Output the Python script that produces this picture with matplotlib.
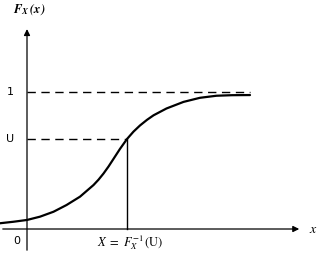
import matplotlib
matplotlib.use("Agg")
import matplotlib.pyplot as plt

# CDF curve (x in arbitrary units, F between 0 and 1)
curve_x = [-0.54, -0.27, 0.0, 0.26, 0.53, 0.79, 1.06, 1.33, 1.43, 1.53, 1.63, 1.73, 1.86,
           2.0, 2.13, 2.26, 2.4, 2.53, 2.79, 3.13, 3.46, 3.79, 4.1, 4.46]
curve_f = [0.042, 0.053, 0.066, 0.090, 0.126, 0.175, 0.236, 0.321, 0.360, 0.405, 0.456, 0.512, 0.585,
           0.657, 0.711, 0.756, 0.797, 0.830, 0.880, 0.928, 0.958, 0.973, 0.977, 0.978]

u_level = 0.657  # the "U" level on the F axis
x_inv = 2.0      # X = F_X^{-1}(U)
dash_end = 4.46  # where the dashed line at 1 stops

plt.rcParams['mathtext.fontset'] = 'stix'

fig = plt.figure(figsize=(3.23, 2.59), dpi=100)
ax = fig.add_axes([0, 0, 1, 1])
ax.set_xlim(-0.54, 5.92)
ax.set_ylim(-0.219, 1.672)
ax.axis('off')

# axes with arrows
ax.annotate('', xy=(5.5, 0), xytext=(-0.54, 0),
            arrowprops=dict(arrowstyle='-|>', lw=0.9, color='black', mutation_scale=9))
ax.annotate('', xy=(0, 1.48), xytext=(0, -0.175),
            arrowprops=dict(arrowstyle='-|>', lw=0.9, color='black', mutation_scale=9))

# dashed guide lines
ax.plot([0, dash_end], [1, 1], color='black', lw=1.0, dashes=(6, 4))
ax.plot([0, x_inv], [u_level, u_level], color='black', lw=1.0, dashes=(6, 4))
ax.plot([x_inv, x_inv], [0, u_level], color='black', lw=1.0)

# the curve
ax.plot(curve_x, curve_f, color='black', lw=1.6, solid_capstyle='round', solid_joinstyle='round')

# labels
ax.text(0.04, 1.60, r'$\mathbfit{F_X\,(x)}$', fontsize=9, ha='center', va='center')
ax.text(-0.34, 1.0, '1', fontsize=8, ha='center', va='center', family='DejaVu Sans')
ax.text(-0.34, u_level, 'U', fontsize=8, ha='center', va='center', family='DejaVu Sans')
ax.text(-0.2, -0.088, '0', fontsize=8, ha='center', va='center', family='DejaVu Sans')
ax.text(2.06, -0.10, r'$X\ =\ F_X^{-1}\,(\mathrm{U})$', fontsize=9, ha='center', va='center')
ax.text(5.72, 0.0, r'$x$', fontsize=10, ha='center', va='center')

fig.savefig('out.png', dpi=100)
